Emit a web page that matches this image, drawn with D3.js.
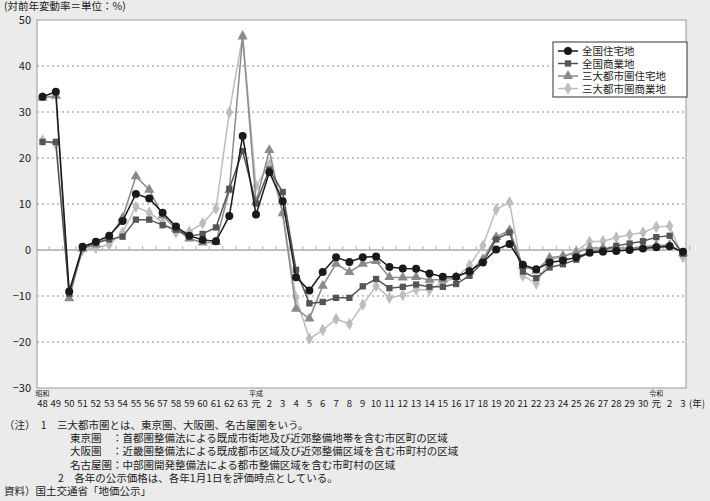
<!DOCTYPE html><html><head><meta charset="utf-8"><script src="https://cdn.jsdelivr.net/npm/d3@7"></script>
<style>body{margin:0;background:#ebebeb;}svg{font-family:"Noto Sans CJK JP",sans-serif;}</style></head><body><svg id="c" width="710" height="501"></svg>
<script>
const years=["48","49","50","51","52","53","54","55","56","57","58","59","60","61","62","63","元","2","3","4","5","6","7","8","9","10","11","12","13","14","15","16","17","18","19","20","21","22","23","24","25","26","27","28","29","30","元","2","3"];
const zenjuu=[33.3,34.4,-9.0,0.7,1.8,3.1,6.3,12.2,11.2,8.1,5.1,3.1,2.2,1.9,7.4,24.8,7.7,16.9,10.6,-5.9,-8.8,-4.8,-1.6,-2.6,-1.6,-1.4,-3.7,-4.0,-4.1,-5.1,-5.8,-5.8,-4.6,-2.7,0.1,1.3,-3.2,-4.2,-2.7,-2.3,-1.6,-0.6,-0.4,-0.2,0.0,0.3,0.6,0.8,-0.4];
const zenshou=[23.5,23.5,-9.5,0.4,1.6,2.3,2.9,6.6,6.6,5.4,4.4,3.0,3.5,4.9,13.3,21.5,10.1,17.5,12.6,-4.3,-11.6,-11.3,-10.4,-10.4,-7.9,-6.3,-8.3,-8.0,-7.5,-8.0,-8.0,-7.4,-5.6,-2.7,2.3,3.8,-4.7,-6.1,-3.8,-3.1,-2.1,-0.5,0.0,0.9,1.4,1.9,2.8,3.1,-0.8];
const sanjuu=[33.1,33.5,-10.5,0.3,1.2,2.8,7.0,16.0,13.1,7.5,4.6,2.5,1.6,1.7,13.0,46.4,10.4,21.7,8.0,-12.8,-14.9,-7.8,-3.0,-4.8,-3.0,-2.4,-5.9,-6.0,-5.9,-6.5,-6.4,-5.9,-4.7,-2.0,2.8,4.3,-3.5,-4.5,-1.7,-1.3,-0.6,0.5,0.4,0.5,0.4,0.7,1.0,1.1,-0.7];
const sanshou=[23.8,23.0,-9.5,0.0,0.5,1.2,3.8,9.4,8.1,6.0,3.8,4.0,5.8,9.0,29.9,46.6,13.9,18.6,8.0,-10.4,-19.3,-17.4,-15.0,-16.1,-11.9,-7.8,-10.4,-9.8,-8.6,-8.7,-7.0,-6.0,-3.3,0.9,8.8,10.4,-5.6,-7.3,-2.1,-1.5,-0.2,1.8,1.9,2.7,3.3,3.8,5.0,5.2,-1.6];
const seriesNames=["全国住宅地","全国商業地","三大都市圏住宅地","三大都市圏商業地"];
const yTicks=[50,40,30,20,10,0,-10,-20,-30];
const notes=["（注）　1　三大都市圏とは、東京圏、大阪圏、名古屋圏をいう。","東京圏　：首都圏整備法による既成市街地及び近郊整備地帯を含む市区町の区域","大阪圏　：近畿圏整備法による既成都市区域及び近郊整備区域を含む市町村の区域","名古屋圏：中部圏開発整備法による都市整備区域を含む市町村の区域","2　各年の公示価格は、各年1月1日を評価時点としている。","資料）国土交通省「地価公示」"];

const svg=d3.select("#c");
const L=37,R=686,T=20,B=388;
svg.append("rect").attr("x",L).attr("y",T).attr("width",R-L).attr("height",B-T).attr("fill","#fff").attr("stroke","#999");
const x=d3.scaleLinear().domain([0,years.length-1]).range([42.5,683]);
const y=d3.scaleLinear().domain([-30,50]).range([B,T]);
yTicks.forEach(t=>{
  if(t!==50&&t!==-30&&t!==0) svg.append("line").attr("x1",L).attr("x2",R).attr("y1",y(t)).attr("y2",y(t)).attr("stroke","#888").attr("stroke-dasharray","2,3");
  svg.append("text").attr("x",31).attr("y",y(t)+4).attr("text-anchor","end").attr("font-size",11).attr("fill","#222").text(t<0?"−"+(-t):t);
});
svg.append("line").attr("x1",L).attr("x2",R).attr("y1",y(0)).attr("y2",y(0)).attr("stroke","#aaa").attr("stroke-width",1.5);
years.forEach((d,i)=>{
  svg.append("line").attr("x1",x(i)+6.7).attr("x2",x(i)+6.7).attr("y1",y(0)).attr("y2",y(0)-4).attr("stroke","#aaa");
  svg.append("text").attr("x",x(i)).attr("y",407).attr("text-anchor","middle").attr("font-size",9.5).attr("fill","#222").text(d);
});
svg.append("text").attr("x",x(years.length-1)+6).attr("y",407).attr("font-size",9.5).attr("fill","#222").text("(年)");
[[0,"昭和"],[16,"平成"],[46,"令和"]].forEach(([i,t])=>svg.append("text").attr("x",x(i)).attr("y",396).attr("text-anchor","middle").attr("font-size",7).attr("fill","#222").text(t));
svg.append("text").attr("x",4).attr("y",10).attr("font-size",10.5).attr("fill","#222").text("(対前年変動率＝単位：%)");

const data=[zenjuu,zenshou,sanjuu,sanshou];
const cols=["#1a1a1a","#555555","#8a8a8a","#bdbdbd"];
const syms=[d3.symbolCircle,d3.symbolSquare,d3.symbolTriangle,d3.symbolDiamond];
const sizes=[50,40,45,45];
const line=d3.line().x((d,i)=>x(i)).y(d=>y(d));
[3,2,1,0].forEach(k=>{
  svg.append("path").attr("d",line(data[k])).attr("fill","none").attr("stroke",cols[k]).attr("stroke-width",1.5);
  svg.selectAll(null).data(data[k]).enter().append("path").attr("transform",(d,i)=>`translate(${x(i)},${y(d)})`).attr("d",d3.symbol().type(syms[k]).size(sizes[k])).attr("fill",cols[k]);
});
const lg=svg.append("g").attr("transform","translate(553,42)");
lg.append("rect").attr("width",134).attr("height",55).attr("fill","#fff").attr("stroke","#333");
seriesNames.forEach((n,k)=>{
  const yy=9+k*12.5;
  lg.append("line").attr("x1",5).attr("x2",25).attr("y1",yy).attr("y2",yy).attr("stroke",cols[k]).attr("stroke-width",1.5);
  lg.append("path").attr("transform",`translate(15,${yy})`).attr("d",d3.symbol().type(syms[k]).size(sizes[k])).attr("fill",cols[k]);
  lg.append("text").attr("x",29).attr("y",yy+4).attr("font-size",10.5).attr("fill","#222").text(n);
});
const nx=[4,70,70,70,58,4];
notes.forEach((t,i)=>svg.append("text").attr("x",nx[i]).attr("y",429+i*13.2).attr("font-size",10.5).attr("fill","#222").text(t));
</script></body></html>
